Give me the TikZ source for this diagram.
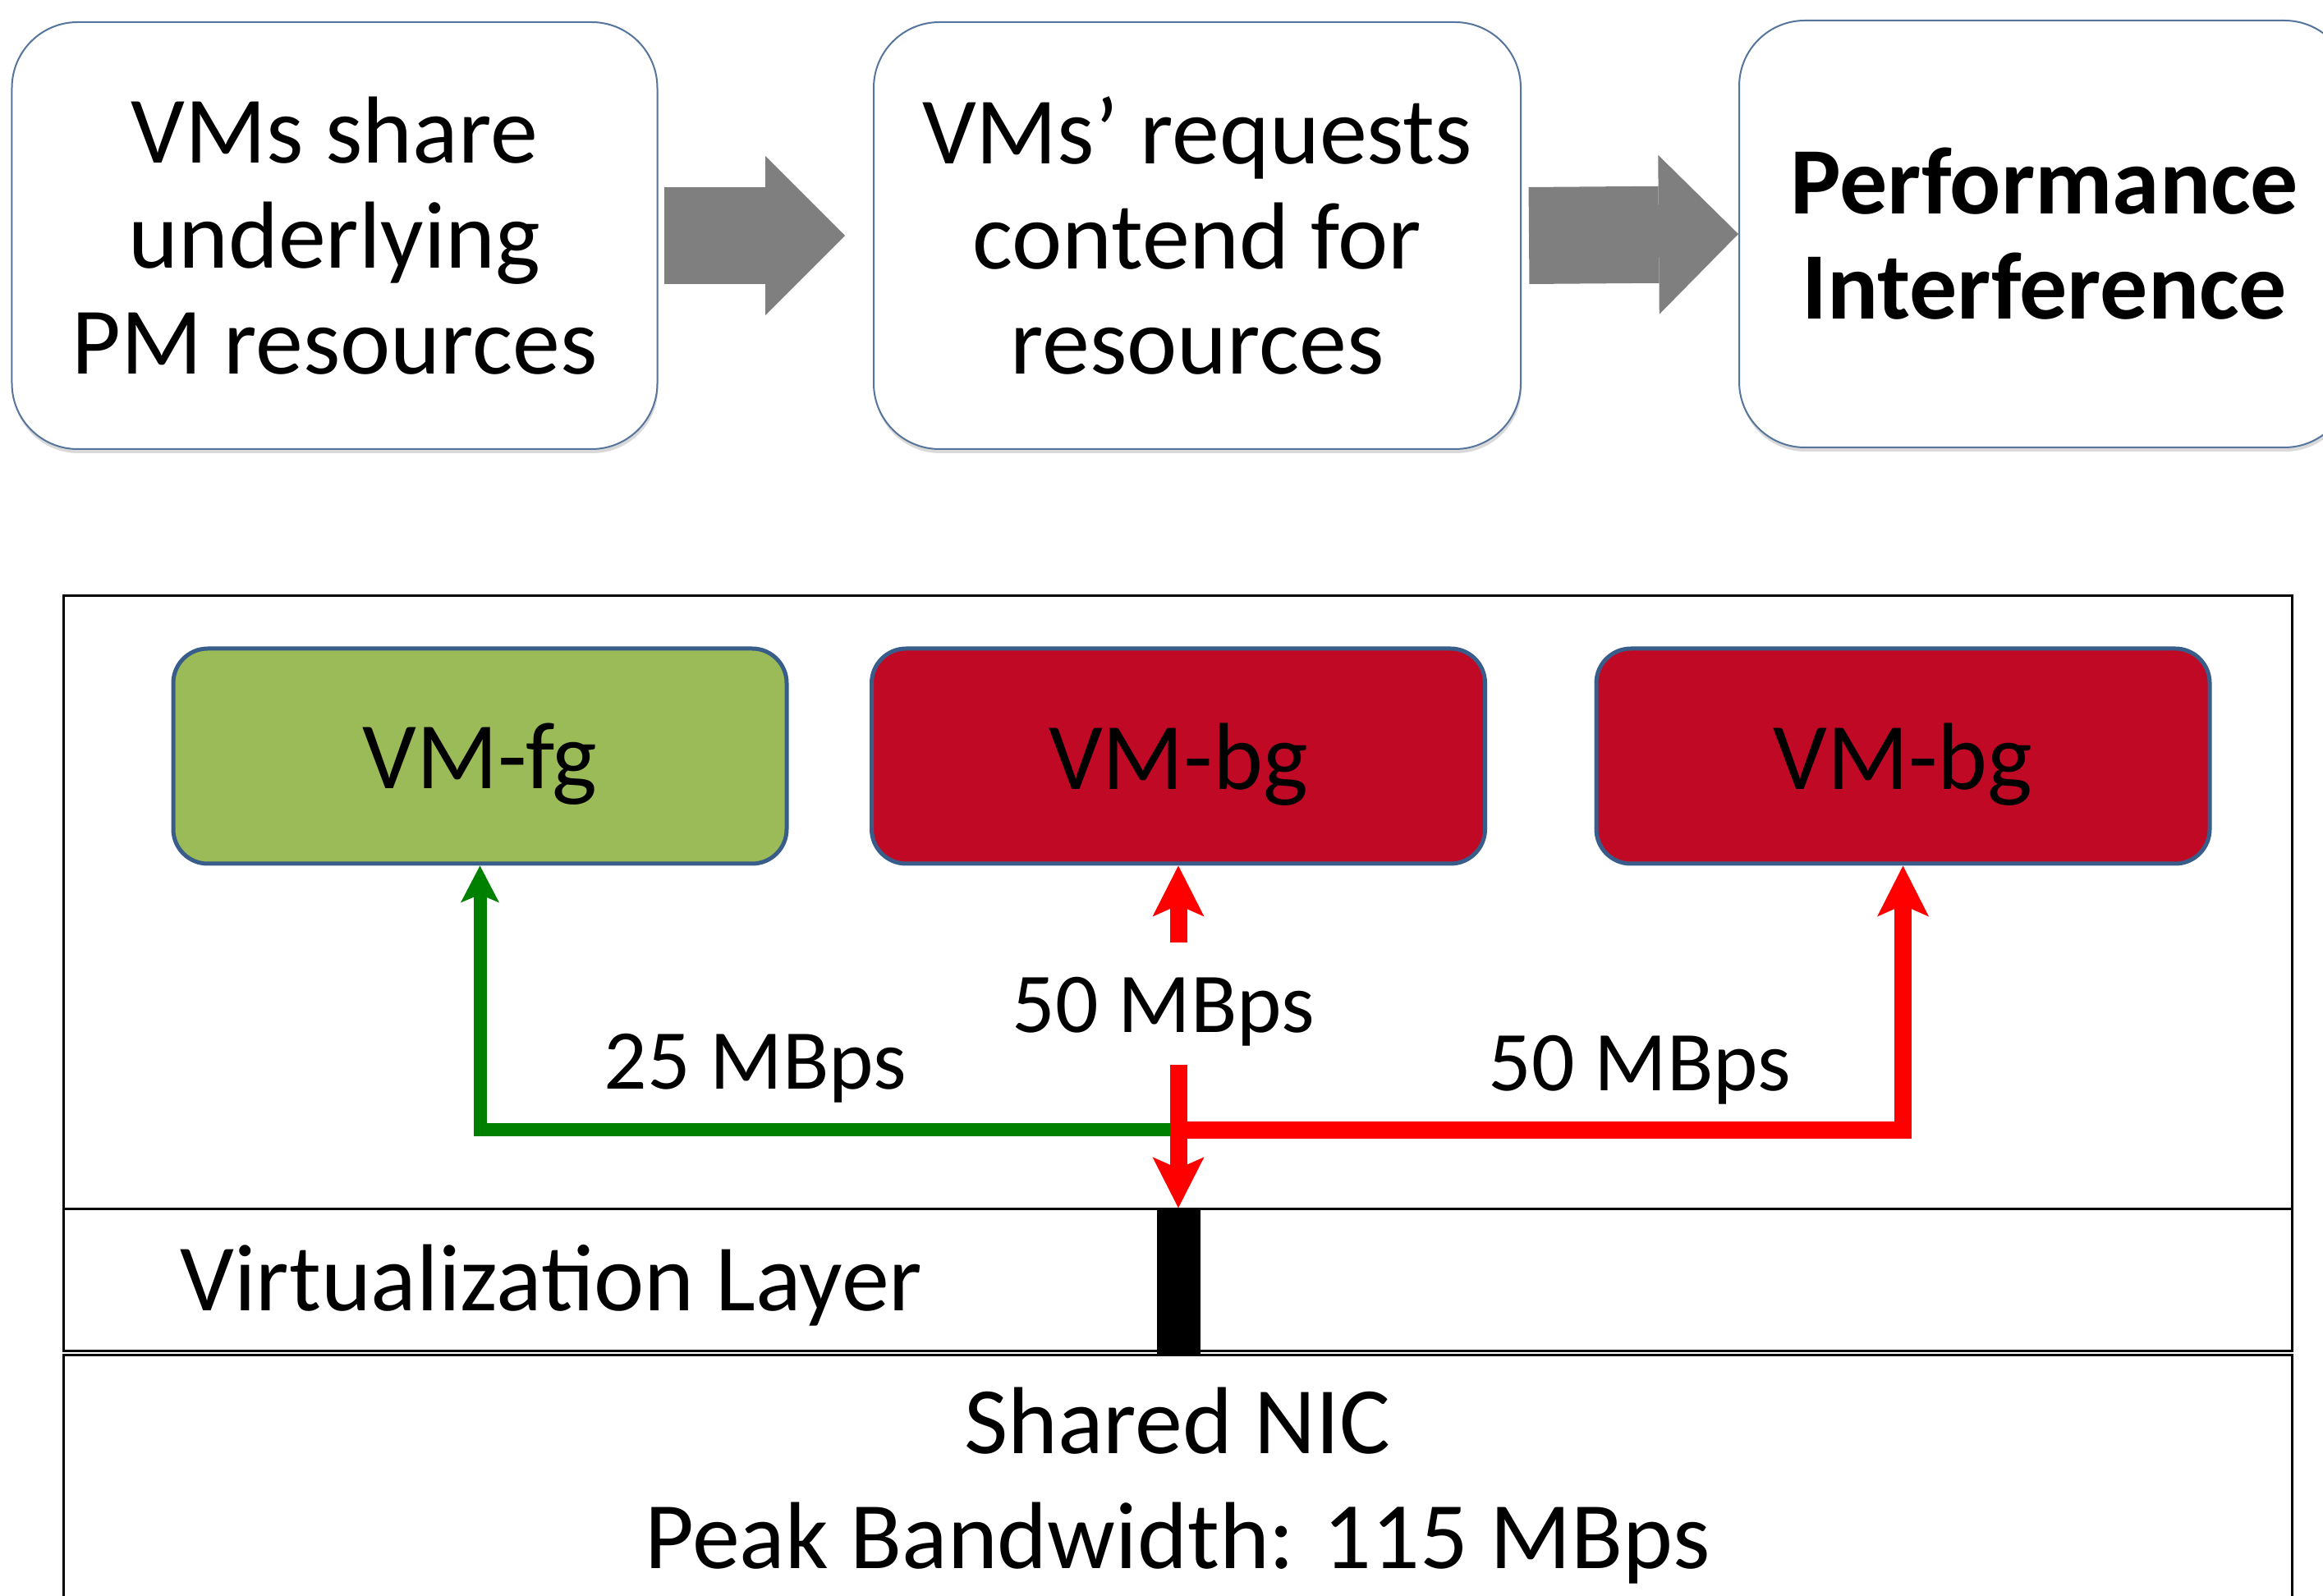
\documentclass[tikz,border=0pt]{standalone}
\usepackage{fontspec}
\setmainfont{Carlito}
\usetikzlibrary{arrows.meta,shadows}

\definecolor{edgeblue}{RGB}{56,93,138}
\definecolor{fggreen}{RGB}{155,187,89}
\definecolor{bgred}{RGB}{192,10,37}
\definecolor{flowgray}{RGB}{127,127,127}
\definecolor{linkgreen}{RGB}{0,128,0}
\definecolor{linkred}{RGB}{255,0,0}

\tikzset{
	stepbox/.style={draw=edgeblue!85, line width=0.02cm, fill=white, rounded corners=0.8cm,
		minimum width=7.86cm, minimum height=5.2cm, align=center, inner sep=0pt,
		font=\fontsize{33}{36.5}\selectfont,
		drop shadow={shadow xshift=0.01cm, shadow yshift=-0.05cm, opacity=0.3}},
	vmbox/.style={draw=edgeblue, line width=0.05cm, rounded corners=0.42cm, text depth=0pt,
		minimum width=7.47cm, minimum height=2.62cm, font=\fontsize{33}{40}\selectfont},
	flow/.style={flowgray, line width=1.18cm, -{Triangle[length=0.97cm, width=1.94cm, line width=0pt]}},
	layer/.style={draw, line width=0.03cm, minimum width=27.14cm, inner sep=0pt},
	rate/.style={font=\fontsize{29.5}{34}\selectfont, anchor=base},
	linkg/.style={linkgreen, line width=0.16cm, -{Stealth[length=0.45cm, width=0.47cm, inset=0.1cm, line width=0pt]}},
	linkr/.style={linkred, line width=0.21cm, -{Stealth[length=0.62cm, width=0.63cm, inset=0.14cm, line width=0pt]}},
}

\begin{document}
\begin{tikzpicture}
		\useasboundingbox (0,0) rectangle (28.29,-19.44);
		\clip (0,0) rectangle (28.29,-19.44);
		
		%%%%% CAUSE CHAIN %%%%%
		
		\node[stepbox] (share) at (4.075,-2.87) {VMs share\\underlying\\PM resources};
		\node[stepbox, minimum width=7.88cm] (contend) at (14.58,-2.87) {VMs’ requests\\contend for\\resources};
		\node[stepbox, minimum width=7.44cm, font=\fontsize{33}{36.5}\selectfont\bfseries] (interf) at (24.90,-2.85) {Performance\\Interference};
		
		\draw[flow] ([xshift=0.07cm]share.east) -- ([xshift=-0.34cm]contend.west);
		\draw[flow] ([xshift=0.09cm]contend.east) -- (interf.west);
		
		%%%%% HOST %%%%%
		
		\node[layer, minimum height=7.46cm] (host) at (14.34,-10.99) {};
		\node[layer, minimum height=1.73cm] (virt) at (14.34,-15.585) {};
		\node[layer, minimum height=3.5cm] (nic) at (14.34,-18.25) {};
		
		\node[vmbox, fill=fggreen] (fg) at (5.845,-9.21) {VM-fg};
		\node[vmbox, fill=bgred] (bg1) at (14.35,-9.21) {VM-bg};
		\node[vmbox, fill=bgred] (bg2) at (23.175,-9.21) {VM-bg};
		
		\node[fill=black, minimum width=0.53cm, minimum height=1.78cm, inner sep=0pt] (port) at (14.35,-15.61) {};
		
		\node[anchor=base west, font=\fontsize{33}{40}\selectfont] (virtlabel) at (2.07,-15.96) {Virtualization Layer};
		\node[anchor=base, font=\fontsize{33}{40}\selectfont] (nicname) at (14.34,-17.70) {Shared NIC};
		\node[anchor=base, font=\fontsize{33}{40}\selectfont] (nicpeak) at (14.34,-19.10) {Peak Bandwidth: 115 MBps};
		
		%%%%% TRAFFIC %%%%%
		
		\coordinate (hub) at (14.35,-13.76);
		\coordinate (upstart) at (14.35,-11.48);
		\coordinate (downstart) at (14.35,-12.97);
		
		\draw[linkg] (hub) -| (fg.south);
		\draw[linkr] (hub) -| (bg2.south);
		\draw[linkr] (upstart) -- (bg1.south);
		\draw[linkr] (downstart) -- (downstart |- port.north);
		
		\node[rate] (fgrate) at (9.20,-13.26) {25 MBps};
		\node[rate] (midrate) at (14.17,-12.57) {50 MBps};
		\node[rate] (bgrate) at (19.97,-13.28) {50 MBps};
		
\end{tikzpicture}
\end{document}
